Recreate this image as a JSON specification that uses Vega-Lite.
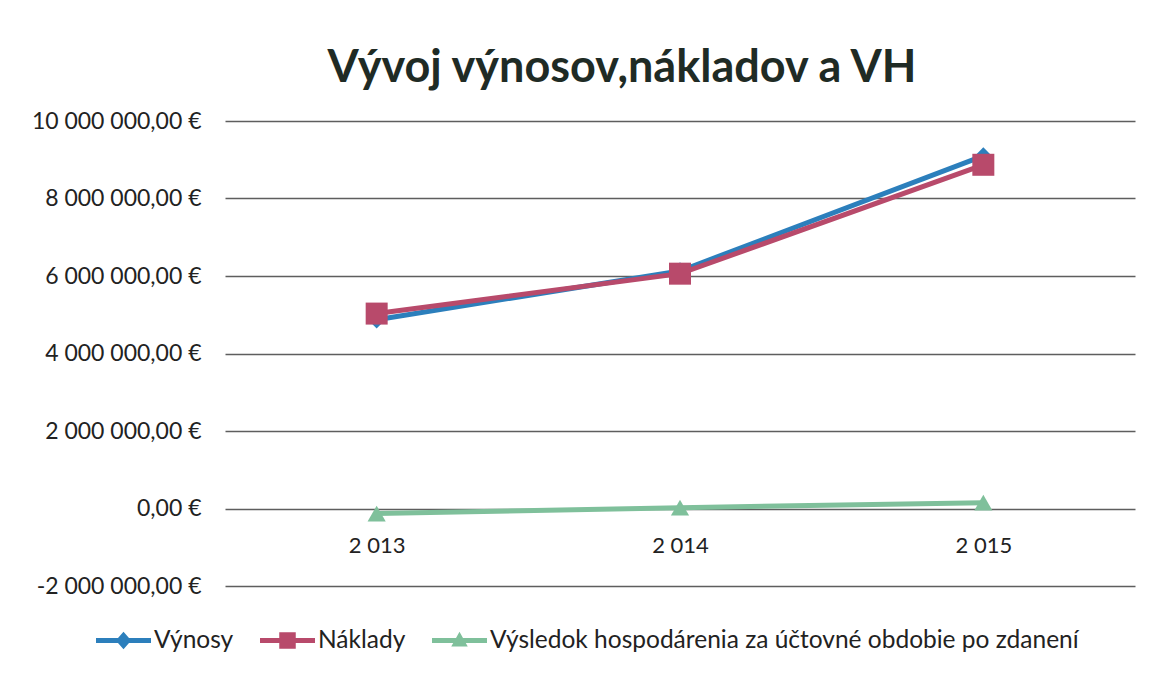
{
  "$schema": "https://vega.github.io/schema/vega-lite/v6.json",
  "width": 910,
  "height": 465,
  "autosize": {"type": "none"},
  "padding": {"left": 225, "top": 121, "right": 20, "bottom": 89},
  "background": "white",
  "config": {
    "font": "Lato",
    "view": {"stroke": null}
  },
  "title": {
    "text": "Vývoj výnosov,nákladov a VH",
    "fontSize": 45,
    "fontWeight": "bold",
    "color": "#1f2b25",
    "anchor": "middle",
    "frame": "group",
    "dx": -58,
    "offset": 19
  },
  "data": {
    "values": [
      {"year": "2013", "series": "Výnosy", "value": 4870000},
      {"year": "2014", "series": "Výnosy", "value": 6130000},
      {"year": "2015", "series": "Výnosy", "value": 9100000},
      {"year": "2013", "series": "Náklady", "value": 5030000},
      {"year": "2014", "series": "Náklady", "value": 6060000},
      {"year": "2015", "series": "Náklady", "value": 8870000},
      {"year": "2013", "series": "Výsledok hospodárenia za účtovné obdobie po zdanení", "value": -130000},
      {"year": "2014", "series": "Výsledok hospodárenia za účtovné obdobie po zdanení", "value": 20000},
      {"year": "2015", "series": "Výsledok hospodárenia za účtovné obdobie po zdanení", "value": 150000}
    ]
  },
  "encoding": {
    "x": {
      "field": "year",
      "type": "ordinal",
      "scale": {"type": "point", "padding": 0.5},
      "axis": {
        "title": null,
        "domain": false,
        "ticks": false,
        "grid": false,
        "labelAngle": 0,
        "offset": -77,
        "labelPadding": 26,
        "labelFontSize": 22,
        "labelColor": "#222222",
        "labelExpr": "slice(datum.value,0,1) + ' ' + slice(datum.value,1)"
      }
    },
    "y": {
      "field": "value",
      "type": "quantitative",
      "scale": {"domain": [-2000000, 10000000], "nice": false, "zero": false},
      "axis": {
        "title": null,
        "domain": false,
        "ticks": false,
        "values": [-2000000, 0, 2000000, 4000000, 6000000, 8000000, 10000000],
        "grid": true,
        "gridColor": "#5e5e5e",
        "gridWidth": 1.3,
        "labelPadding": 24,
        "labelFontSize": 23,
        "labelColor": "#222222",
        "labelExpr": "replace(replace(replace(format(datum.value, ',.2f'), regexp(',', 'g'), ' '), '.', ','), '−', '-') + ' €'"
      }
    },
    "color": {
      "field": "series",
      "type": "nominal",
      "sort": null,
      "scale": {
        "domain": ["Výnosy", "Náklady", "Výsledok hospodárenia za účtovné obdobie po zdanení"],
        "range": ["#2c7fbc", "#b84a6b", "#7fc09b"]
      },
      "legend": {
        "title": null,
        "orient": "none",
        "direction": "horizontal",
        "legendX": -129,
        "legendY": 492,
        "symbolSize": 3025,
        "labelFontSize": 24.5,
        "labelLimit": 800,
        "labelColor": "#222222",
        "labelOffset": 3,
        "columnPadding": 26,
        "encode": {
          "symbols": {
            "update": {
              "shape": {"signal": "datum.value === 'Výnosy' ? 'M-1,-0.09L1,-0.09L1,0.09L-1,0.09Z M0,-0.32L0.28,0L0,0.32L-0.28,0Z' : datum.value === 'Náklady' ? 'M-1,-0.09L1,-0.09L1,0.09L-1,0.09Z M-0.3,-0.3L0.3,-0.3L0.3,0.3L-0.3,0.3Z' : 'M-1,-0.09L1,-0.09L1,0.09L-1,0.09Z M0,-0.32L0.3,0.22L-0.3,0.22Z'"},
              "fill": {"scale": "color", "field": "value"},
              "fillOpacity": {"value": 1},
              "strokeWidth": {"value": 0}
            }
          }
        }
      }
    }
  },
  "layer": [
    {
      "mark": {"type": "line", "strokeWidth": 5},
      "encoding": {
        "detail": {"field": "series"}
      }
    },
    {
      "transform": [{"filter": "datum.series === 'Výnosy'"}],
      "mark": {"type": "point", "filled": true, "opacity": 1, "shape": "diamond", "size": 300}
    },
    {
      "transform": [{"filter": "datum.series === 'Náklady'"}],
      "mark": {"type": "point", "filled": true, "opacity": 1, "shape": "square", "size": 484}
    },
    {
      "transform": [{"filter": "datum.series !== 'Výnosy' && datum.series !== 'Náklady'"}],
      "mark": {"type": "point", "filled": true, "opacity": 1, "shape": "triangle-up", "size": 330}
    }
  ]
}
